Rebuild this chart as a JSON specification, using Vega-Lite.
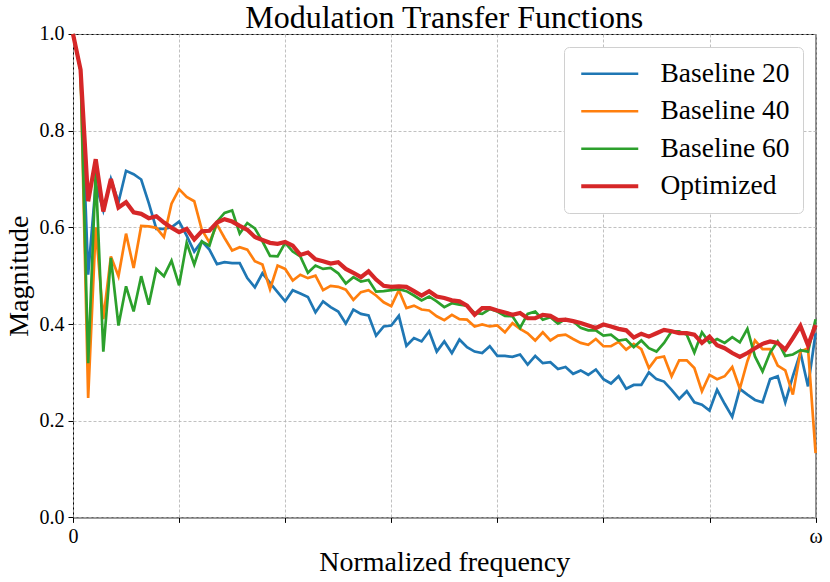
{
  "$schema": "https://vega.github.io/schema/vega-lite/v6.json",
  "description": "Modulation transfer functions of three baselines and the optimized system",
  "autosize": {"type": "none"},
  "padding": {"left": 73, "top": 34, "right": 15, "bottom": 64},
  "width": 742.6,
  "height": 483.4,
  "background": "white",
  "title": {
    "text": "Modulation Transfer Functions",
    "font": "Liberation Serif",
    "fontSize": 32,
    "fontWeight": "normal",
    "color": "black",
    "anchor": "middle",
    "frame": "group",
    "offset": 4,
    "dy": 15
  },
  "config": {
    "view": {"stroke": "black", "strokeWidth": 1},
    "axis": {
      "labelFont": "Liberation Serif",
      "titleFont": "Liberation Serif",
      "labelFontSize": 20,
      "titleFontSize": 28,
      "titleFontWeight": "normal",
      "labelColor": "black",
      "titleColor": "black",
      "tickColor": "black",
      "tickSize": 5,
      "labelPadding": 4,
      "labelFlush": false,
      "domain": false,
      "gridColor": "#b0b0b0",
      "gridDash": [3, 2],
      "gridWidth": 0.8
    },
    "legend": {
      "orient": "top-right",
      "offset": 13,
      "padding": 13,
      "rowPadding": 8.5,
      "labelFont": "Liberation Serif",
      "labelFontSize": 27.5,
      "labelColor": "black",
      "labelOffset": 37,
      "symbolOffset": 19,
      "symbolType": "stroke",
      "symbolSize": 3250,
      "strokeColor": "#d0d0d0",
      "fillColor": "white",
      "cornerRadius": 5
    }
  },
  "data": {
    "values": [
      {"f": 0, "b20": 1.0, "b40": 1.0, "b60": 1.0, "opt": 1.0},
      {"f": 1, "b20": 0.925, "b40": 0.925, "b60": 0.925, "opt": 0.926},
      {"f": 2, "b20": 0.502, "b40": 0.247, "b60": 0.319, "opt": 0.654},
      {"f": 3, "b20": 0.69, "b40": 0.6, "b60": 0.716, "opt": 0.741},
      {"f": 4, "b20": 0.635, "b40": 0.41, "b60": 0.343, "opt": 0.633},
      {"f": 5, "b20": 0.70, "b40": 0.54, "b60": 0.537, "opt": 0.70},
      {"f": 6, "b20": 0.652, "b40": 0.499, "b60": 0.397, "opt": 0.641},
      {"f": 7, "b20": 0.717, "b40": 0.587, "b60": 0.478, "opt": 0.652},
      {"f": 8, "b20": 0.71, "b40": 0.516, "b60": 0.426, "opt": 0.631},
      {"f": 9, "b20": 0.699, "b40": 0.603, "b60": 0.499, "opt": 0.628},
      {"f": 10, "b20": 0.65, "b40": 0.602, "b60": 0.44, "opt": 0.619},
      {"f": 11, "b20": 0.597, "b40": 0.599, "b60": 0.514, "opt": 0.623},
      {"f": 12, "b20": 0.597, "b40": 0.58, "b60": 0.499, "opt": 0.61},
      {"f": 13, "b20": 0.60, "b40": 0.649, "b60": 0.531, "opt": 0.599},
      {"f": 14, "b20": 0.612, "b40": 0.679, "b60": 0.48, "opt": 0.59},
      {"f": 15, "b20": 0.583, "b40": 0.663, "b60": 0.568, "opt": 0.597},
      {"f": 16, "b20": 0.55, "b40": 0.654, "b60": 0.523, "opt": 0.575},
      {"f": 17, "b20": 0.571, "b40": 0.595, "b60": 0.571, "opt": 0.592},
      {"f": 18, "b20": 0.554, "b40": 0.569, "b60": 0.562, "opt": 0.593},
      {"f": 19, "b20": 0.524, "b40": 0.606, "b60": 0.612, "opt": 0.61},
      {"f": 20, "b20": 0.528, "b40": 0.578, "b60": 0.63, "opt": 0.617},
      {"f": 21, "b20": 0.526, "b40": 0.552, "b60": 0.635, "opt": 0.612},
      {"f": 22, "b20": 0.526, "b40": 0.559, "b60": 0.587, "opt": 0.603},
      {"f": 23, "b20": 0.495, "b40": 0.554, "b60": 0.609, "opt": 0.595},
      {"f": 24, "b20": 0.476, "b40": 0.53, "b60": 0.598, "opt": 0.58},
      {"f": 25, "b20": 0.505, "b40": 0.523, "b60": 0.571, "opt": 0.574},
      {"f": 26, "b20": 0.485, "b40": 0.472, "b60": 0.541, "opt": 0.568},
      {"f": 27, "b20": 0.466, "b40": 0.521, "b60": 0.54, "opt": 0.566},
      {"f": 28, "b20": 0.447, "b40": 0.514, "b60": 0.568, "opt": 0.57},
      {"f": 29, "b20": 0.47, "b40": 0.49, "b60": 0.55, "opt": 0.562},
      {"f": 30, "b20": 0.463, "b40": 0.502, "b60": 0.54, "opt": 0.543},
      {"f": 31, "b20": 0.456, "b40": 0.495, "b60": 0.506, "opt": 0.548},
      {"f": 32, "b20": 0.424, "b40": 0.50, "b60": 0.521, "opt": 0.534},
      {"f": 33, "b20": 0.447, "b40": 0.47, "b60": 0.514, "opt": 0.53},
      {"f": 34, "b20": 0.435, "b40": 0.479, "b60": 0.516, "opt": 0.525},
      {"f": 35, "b20": 0.426, "b40": 0.477, "b60": 0.505, "opt": 0.528},
      {"f": 36, "b20": 0.401, "b40": 0.471, "b60": 0.484, "opt": 0.514},
      {"f": 37, "b20": 0.43, "b40": 0.45, "b60": 0.497, "opt": 0.506},
      {"f": 38, "b20": 0.421, "b40": 0.466, "b60": 0.488, "opt": 0.497},
      {"f": 39, "b20": 0.418, "b40": 0.47, "b60": 0.491, "opt": 0.509},
      {"f": 40, "b20": 0.376, "b40": 0.459, "b60": 0.467, "opt": 0.492},
      {"f": 41, "b20": 0.395, "b40": 0.445, "b60": 0.468, "opt": 0.479},
      {"f": 42, "b20": 0.397, "b40": 0.437, "b60": 0.47, "opt": 0.477},
      {"f": 43, "b20": 0.417, "b40": 0.47, "b60": 0.472, "opt": 0.478},
      {"f": 44, "b20": 0.355, "b40": 0.433, "b60": 0.468, "opt": 0.477},
      {"f": 45, "b20": 0.371, "b40": 0.438, "b60": 0.459, "opt": 0.468},
      {"f": 46, "b20": 0.364, "b40": 0.43, "b60": 0.449, "opt": 0.459},
      {"f": 47, "b20": 0.385, "b40": 0.428, "b60": 0.457, "opt": 0.468},
      {"f": 48, "b20": 0.343, "b40": 0.416, "b60": 0.447, "opt": 0.457},
      {"f": 49, "b20": 0.364, "b40": 0.408, "b60": 0.435, "opt": 0.454},
      {"f": 50, "b20": 0.34, "b40": 0.419, "b60": 0.443, "opt": 0.449},
      {"f": 51, "b20": 0.368, "b40": 0.41, "b60": 0.44, "opt": 0.447},
      {"f": 52, "b20": 0.352, "b40": 0.409, "b60": 0.438, "opt": 0.438},
      {"f": 53, "b20": 0.343, "b40": 0.395, "b60": 0.423, "opt": 0.419},
      {"f": 54, "b20": 0.34, "b40": 0.399, "b60": 0.421, "opt": 0.433},
      {"f": 55, "b20": 0.354, "b40": 0.395, "b60": 0.431, "opt": 0.433},
      {"f": 56, "b20": 0.334, "b40": 0.397, "b60": 0.426, "opt": 0.428},
      {"f": 57, "b20": 0.334, "b40": 0.383, "b60": 0.417, "opt": 0.424},
      {"f": 58, "b20": 0.332, "b40": 0.402, "b60": 0.416, "opt": 0.419},
      {"f": 59, "b20": 0.337, "b40": 0.39, "b60": 0.392, "opt": 0.423},
      {"f": 60, "b20": 0.316, "b40": 0.381, "b60": 0.421, "opt": 0.412},
      {"f": 61, "b20": 0.334, "b40": 0.366, "b60": 0.426, "opt": 0.412},
      {"f": 62, "b20": 0.319, "b40": 0.383, "b60": 0.409, "opt": 0.419},
      {"f": 63, "b20": 0.321, "b40": 0.366, "b60": 0.414, "opt": 0.417},
      {"f": 64, "b20": 0.307, "b40": 0.376, "b60": 0.401, "opt": 0.408},
      {"f": 65, "b20": 0.311, "b40": 0.378, "b60": 0.41, "opt": 0.409},
      {"f": 66, "b20": 0.297, "b40": 0.369, "b60": 0.406, "opt": 0.406},
      {"f": 67, "b20": 0.304, "b40": 0.361, "b60": 0.392, "opt": 0.402},
      {"f": 68, "b20": 0.295, "b40": 0.357, "b60": 0.387, "opt": 0.397},
      {"f": 69, "b20": 0.306, "b40": 0.369, "b60": 0.387, "opt": 0.392},
      {"f": 70, "b20": 0.286, "b40": 0.354, "b60": 0.376, "opt": 0.399},
      {"f": 71, "b20": 0.277, "b40": 0.354, "b60": 0.378, "opt": 0.395},
      {"f": 72, "b20": 0.292, "b40": 0.363, "b60": 0.366, "opt": 0.39},
      {"f": 73, "b20": 0.266, "b40": 0.347, "b60": 0.368, "opt": 0.387},
      {"f": 74, "b20": 0.274, "b40": 0.359, "b60": 0.352, "opt": 0.372},
      {"f": 75, "b20": 0.274, "b40": 0.348, "b60": 0.366, "opt": 0.38},
      {"f": 76, "b20": 0.30, "b40": 0.309, "b60": 0.35, "opt": 0.374},
      {"f": 77, "b20": 0.286, "b40": 0.33, "b60": 0.343, "opt": 0.381},
      {"f": 78, "b20": 0.281, "b40": 0.333, "b60": 0.361, "opt": 0.388},
      {"f": 79, "b20": 0.264, "b40": 0.292, "b60": 0.385, "opt": 0.385},
      {"f": 80, "b20": 0.245, "b40": 0.325, "b60": 0.385, "opt": 0.381},
      {"f": 81, "b20": 0.261, "b40": 0.325, "b60": 0.378, "opt": 0.381},
      {"f": 82, "b20": 0.238, "b40": 0.309, "b60": 0.341, "opt": 0.378},
      {"f": 83, "b20": 0.233, "b40": 0.261, "b60": 0.383, "opt": 0.361},
      {"f": 84, "b20": 0.221, "b40": 0.295, "b60": 0.361, "opt": 0.374},
      {"f": 85, "b20": 0.264, "b40": 0.286, "b60": 0.369, "opt": 0.356},
      {"f": 86, "b20": 0.235, "b40": 0.292, "b60": 0.361, "opt": 0.35},
      {"f": 87, "b20": 0.208, "b40": 0.311, "b60": 0.373, "opt": 0.34},
      {"f": 88, "b20": 0.266, "b40": 0.266, "b60": 0.362, "opt": 0.332},
      {"f": 89, "b20": 0.254, "b40": 0.323, "b60": 0.39, "opt": 0.34},
      {"f": 90, "b20": 0.243, "b40": 0.366, "b60": 0.333, "opt": 0.35},
      {"f": 91, "b20": 0.238, "b40": 0.348, "b60": 0.302, "opt": 0.359},
      {"f": 92, "b20": 0.286, "b40": 0.348, "b60": 0.341, "opt": 0.364},
      {"f": 93, "b20": 0.292, "b40": 0.314, "b60": 0.364, "opt": 0.361},
      {"f": 94, "b20": 0.238, "b40": 0.304, "b60": 0.334, "opt": 0.347},
      {"f": 95, "b20": 0.292, "b40": 0.254, "b60": 0.337, "opt": 0.371},
      {"f": 96, "b20": 0.341, "b40": 0.343, "b60": 0.346, "opt": 0.396},
      {"f": 97, "b20": 0.271, "b40": 0.35, "b60": 0.343, "opt": 0.356},
      {"f": 98, "b20": 0.381, "b40": 0.133, "b60": 0.41, "opt": 0.398}
    ]
  },
  "transform": [
    {"fold": ["b20", "b40", "b60", "opt"], "as": ["series", "m"]}
  ],
  "encoding": {
    "x": {
      "field": "f",
      "type": "quantitative",
      "scale": {"domain": [0, 98], "nice": false, "zero": false},
      "axis": {
        "title": "Normalized frequency",
        "titlePadding": 2,
        "values": [0, 14, 28, 42, 56, 70, 84, 98],
        "labelExpr": "datum.value == 0 ? '0' : (datum.value == 98 ? 'ω' : '')"
      }
    },
    "y": {
      "field": "m",
      "type": "quantitative",
      "scale": {"domain": [0, 1], "nice": false},
      "axis": {
        "title": "Magnitude",
        "titlePadding": 6,
        "values": [0, 0.2, 0.4, 0.6, 0.8, 1.0],
        "format": ".1f"
      }
    },
    "color": {
      "field": "series",
      "type": "nominal",
      "scale": {
        "domain": ["b20", "b40", "b60", "opt"],
        "range": ["#1f77b4", "#ff7f0e", "#2ca02c", "#d62728"]
      },
      "legend": {
        "title": null,
        "labelExpr": "({'b20': 'Baseline 20', 'b40': 'Baseline 40', 'b60': 'Baseline 60', 'opt': 'Optimized'})[datum.label]",
        "symbolStrokeWidth": 2.7,
        "encode": {
          "symbols": {
            "update": {
              "strokeWidth": {"signal": "datum.value == 'opt' ? 4.2 : 2.7"}
            }
          }
        }
      }
    }
  },
  "layer": [
    {"transform": [{"filter": "datum.series == 'b20'"}], "mark": {"type": "line", "strokeWidth": 2.7}},
    {"transform": [{"filter": "datum.series == 'b40'"}], "mark": {"type": "line", "strokeWidth": 2.7}},
    {"transform": [{"filter": "datum.series == 'b60'"}], "mark": {"type": "line", "strokeWidth": 2.7}},
    {"transform": [{"filter": "datum.series == 'opt'"}], "mark": {"type": "line", "strokeWidth": 4.2}}
  ]
}
